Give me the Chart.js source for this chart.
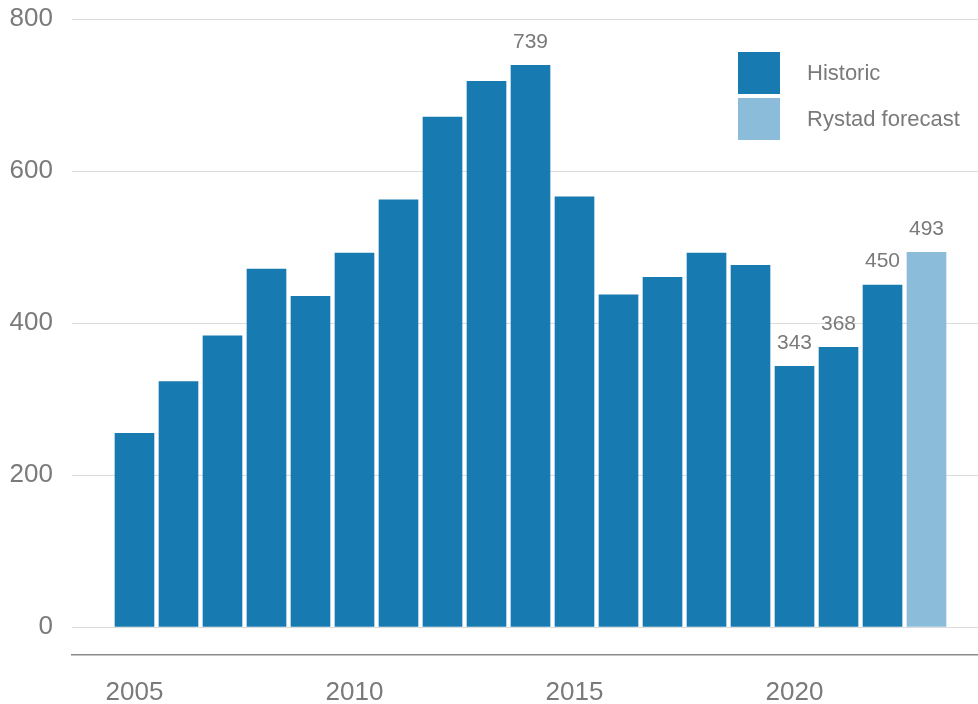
<!DOCTYPE html>
<html>
<head>
<meta charset="utf-8">
<script src="https://cdn.jsdelivr.net/npm/chart.js@4/dist/chart.umd.min.js"></script>
<style>
  body { margin: 0; background: #fff; font-family: "Liberation Sans", Arial, sans-serif; }
  #wrap { position: relative; width: 978px; height: 704px; }
  #legend { position: absolute; left: 738px; top: 52px; }
  .item { display: flex; align-items: center; height: 42px; margin-bottom: 4px; }
  .box { width: 42px; height: 42px; margin-right: 27px; }
  .lbl { font-size: 22px; color: #7a7a7a; }
</style>
</head>
<body>
<div id="wrap">
  <canvas id="chart" width="978" height="704"></canvas>
  <div id="legend"></div>
</div>
<script>
const historicYears = [2005, 2006, 2007, 2008, 2009, 2010, 2011, 2012, 2013, 2014, 2015, 2016, 2017, 2018, 2019, 2020, 2021, 2022];
const historicValues = [255, 323, 383, 471, 435, 492, 562, 671, 718, 739, 566, 437, 460, 492, 476, 343, 368, 450];
const forecastYears = [2023];
const forecastValues = [493];
const labelledYears = [2014, 2020, 2021, 2022, 2023];
const xTickLabels = [2005, 2010, 2015, 2020];
const yTickLabels = [0, 200, 400, 600, 800];

const historicColor = '#177bb2';
const forecastColor = '#8bbddb';
const textColor = '#7a7a7a';

// value labels on top of selected bars
const barLabels = {
    id: 'barLabels',
    afterDatasetsDraw(chart) {
        const ctx = chart.ctx;
        ctx.save();
        ctx.font = '21px "Liberation Sans", Arial, sans-serif';
        ctx.fillStyle = textColor;
        ctx.textAlign = 'center';
        ctx.textBaseline = 'bottom';
        chart.data.datasets.forEach((ds, i) => {
            chart.getDatasetMeta(i).data.forEach((bar, j) => {
                const pt = ds.data[j];
                if (labelledYears.includes(pt.x)) {
                    ctx.fillText(pt.y, bar.x, bar.y - 13);
                }
            });
        });
        ctx.restore();
    }
};

const toPoints = (xs, ys) => xs.map((x, i) => ({ x: x, y: ys[i] }));

const ctx = document.getElementById('chart').getContext('2d');
const myChart = new Chart(ctx, {
    type: 'bar',
    data: {
        datasets: [
            {
                label: 'Historic',
                data: toPoints(historicYears, historicValues),
                backgroundColor: historicColor,
                barThickness: 39,
                grouped: false,
            },
            {
                label: 'Rystad forecast',
                data: toPoints(forecastYears, forecastValues),
                backgroundColor: forecastColor,
                barThickness: 39,
                grouped: false,
            },
        ],
    },
    options: {
        responsive: false,
        animation: false,
        layout: { padding: { top: 19, left: 0, right: 0, bottom: 0 } },
        plugins: {
            legend: { display: false },
            tooltip: { enabled: false },
        },
        scales: {
            x: {
                type: 'linear',
                min: 2003.58,
                max: 2024.17,
                offset: false,
                afterBuildTicks: (axis) => { axis.ticks = xTickLabels.map(v => ({ value: v })); },
                afterFit: (axis) => { axis.height = 49; },
                grid: { display: false, drawTicks: false },
                border: { display: true, color: '#8a8a8a', width: 1.5 },
                ticks: {
                    color: textColor,
                    padding: 22,
                    maxRotation: 0,
                    font: { size: 26, family: '"Liberation Sans", Arial, sans-serif' },
                    callback: (v) => String(v),
                },
            },
            y: {
                min: -36.8,
                max: 800,
                afterBuildTicks: (axis) => { axis.ticks = yTickLabels.map(v => ({ value: v })); },
                afterFit: (axis) => {
                    axis.width = 72;
                    // tick padding is meant as a horizontal gap only
                    axis.paddingTop = 0;
                    axis.paddingBottom = 0;
                },
                grid: { color: '#dcdcdc', lineWidth: 1, drawTicks: false },
                border: { display: false },
                ticks: {
                    color: textColor,
                    padding: 19,
                    font: { size: 26, family: '"Liberation Sans", Arial, sans-serif' },
                },
            },
        },
    },
    plugins: [barLabels],
});

// legend built from the dataset labels and colours
const legendEl = document.getElementById('legend');
myChart.data.datasets.forEach(ds => {
    const item = document.createElement('div');
    item.className = 'item';
    item.innerHTML = '<div class="box" style="background:' + ds.backgroundColor + '"></div><span class="lbl">' + ds.label + '</span>';
    legendEl.appendChild(item);
});
</script>
</body>
</html>
